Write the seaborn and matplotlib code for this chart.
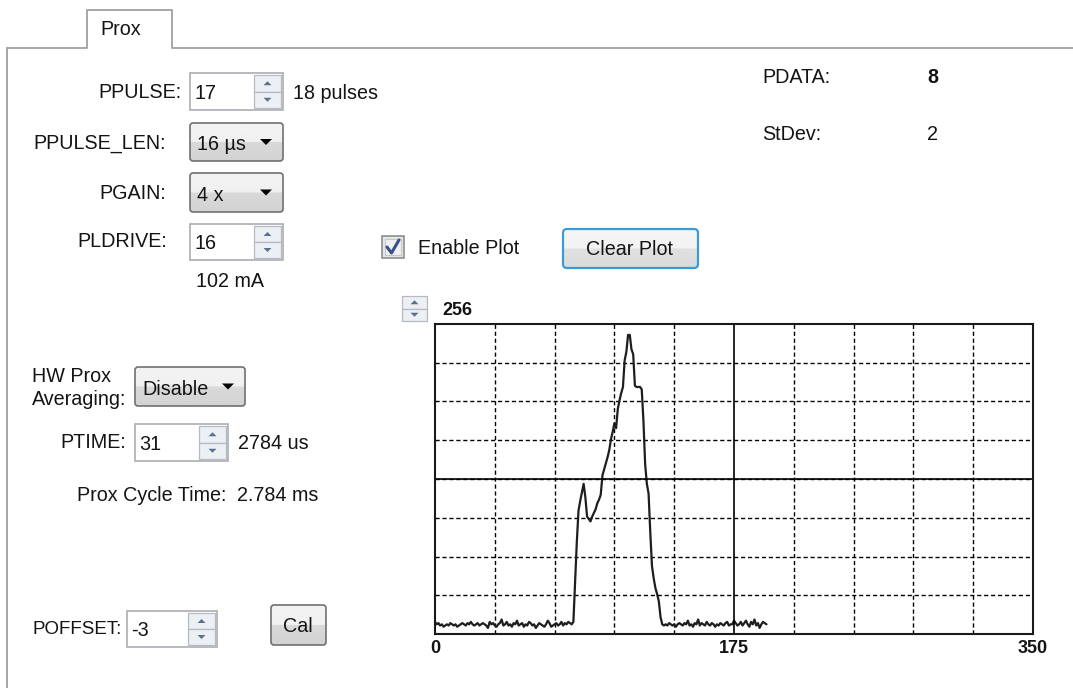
import numpy as np
import pandas as pd
import matplotlib
matplotlib.use('Agg')
import matplotlib.pyplot as plt
from matplotlib.patches import Rectangle, FancyBboxPatch, Polygon
import seaborn as sns

baseline_before = [10, 8, 9, 7, 8, 6, 7, 8, 7, 9,
                   8, 7, 8, 6, 7, 8, 9, 8, 7, 9,
                   8, 10, 8, 7, 8, 9, 7, 8, 9, 8,
                   7, 5, 10, 8, 9, 7, 6, 8, 9, 12,
                   7, 8, 10, 7, 8, 6, 9, 8, 11, 7,
                   8, 9, 6, 8, 7, 10, 9, 7, 8, 5,
                   7, 9, 8, 7, 6, 8, 11, 9, 6, 7,
                   8, 9, 7, 8, 10, 7, 9, 8, 10, 9,
                   8]
pulse = [10, 42, 76, 102, 110, 117, 124, 113, 97, 95,
         93, 97, 100, 103, 108, 111, 115, 131, 136, 141,
         146, 152, 161, 167, 174, 170, 186, 193, 199, 204,
         226, 233, 247, 247, 235, 231, 205, 204, 204, 204,
         202, 176, 140, 124, 116, 84, 56, 46, 38, 33,
         27, 14, 8]
baseline_after = [7, 8, 7, 9, 8, 7, 8, 6, 8, 9,
                  8, 7, 9, 8, 11, 7, 8, 6, 9, 8,
                  12, 7, 9, 8, 7, 10, 8, 7, 9, 8,
                  6, 8, 7, 9, 8, 7, 9, 10, 7, 8,
                  8, 11, 9, 7, 8, 10, 7, 9, 11, 8,
                  6, 10, 8, 12, 7, 9, 5, 8, 10, 9,
                  8]
pdata = baseline_before + pulse + baseline_after
x_ticks = [0, 175, 350]
x_max, y_max = 350, 256

sns.set_style('white')
plt.rcParams['font.family'] = ['Liberation Sans', 'DejaVu Sans']

W, H = 1073, 688
FS = 14.2
TXT = '#141414'

fig = plt.figure(figsize=(W / 100, H / 100), dpi=100)
bg = fig.add_axes([0, 0, 1, 1])
bg.axis('off')


def label(x, y, s, ha='left', **kw):
    fs = kw.pop('fontsize', FS)
    cap = 0.72 * fs * 100 / 72
    bg.text(x, y + cap / 2, s, ha=ha, va='baseline', fontsize=fs, color=TXT, **kw)


def shaded(x0, y0, x1, y1, ec, lw=1.2, r=3, top=0.95, bot=0.85):
    patch = FancyBboxPatch((x0, y0), x1 - x0, y1 - y0, boxstyle=f'round,pad=0,rounding_size={r}',
                           fc='none', ec=ec, lw=lw, zorder=3)
    bg.add_patch(patch)
    t = np.linspace(0, 1, 40)
    vals = np.where(t < 0.5, top - 0.02 * t, bot + 0.05 * (0.5 - t))
    img = np.repeat(vals[:, None], 2, axis=1)
    im = bg.imshow(img, extent=(x0, x1, y1, y0), cmap='gray', vmin=0, vmax=1,
                   aspect='auto', interpolation='bilinear', zorder=2)
    im.set_clip_path(patch)


def spinner(x0, y0, x1, y1):
    ym = (y0 + y1) / 2
    cx = (x0 + x1) / 2
    for a, b, up in [(y0, ym, True), (ym, y1, False)]:
        bg.add_patch(Rectangle((x0, a), x1 - x0, b - a, fc='#eceff3', ec='#b5bac2', lw=0.9, zorder=3))
        c = (a + b) / 2
        if up:
            tri = [(cx - 4, c + 2), (cx + 4, c + 2), (cx, c - 2)]
        else:
            tri = [(cx - 4, c - 2), (cx + 4, c - 2), (cx, c + 2)]
        bg.add_patch(Polygon(tri, closed=True, fc='#5b6f95', ec='none', zorder=4))


def spinbox(x0, y0, x1, y1, value):
    bg.add_patch(Rectangle((x0, y0), x1 - x0, y1 - y0, fc='white', ec='#abadb3', lw=1.2, zorder=2))
    spinner(x1 - 29, y0 + 2, x1 - 2, y1 - 2)
    label(x0 + 4, (y0 + y1) / 2, value)


def dropdown(x0, y0, x1, y1, text):
    shaded(x0, y0, x1, y1, ec='#707070')
    label(x0 + 7, (y0 + y1) / 2 + 1, text)
    c = (y0 + y1) / 2
    bg.add_patch(Polygon([(x1 - 23, c - 3), (x1 - 11, c - 3), (x1 - 17, c + 3)], closed=True,
                         fc='black', ec='none', zorder=4))


# onglet et cadre
frame = '#a0a0a0'
bg.plot([7, 87, 87, 172, 172, W], [48, 48, 10, 10, 48, 48], color=frame, lw=1.3)
bg.plot([7, 7], [48, H], color=frame, lw=1.3)
label(121, 28, 'Prox', ha='center')

# colonne de gauche
label(182, 91, 'PPULSE:', ha='right')
spinbox(190, 73, 283, 110, '17')
label(293, 92, '18 pulses')
label(166, 142, 'PPULSE_LEN:', ha='right')
dropdown(190, 123, 283, 161, '16 µs')
label(166, 192, 'PGAIN:', ha='right')
dropdown(190, 173, 283, 212, '4 x')
label(167, 240, 'PLDRIVE:', ha='right')
spinbox(190, 224, 283, 260, '16')
label(196, 280, '102 mA')

label(32, 375, 'HW Prox')
label(32, 398, 'Averaging:')
dropdown(135, 367, 245, 406, 'Disable')
label(126, 441, 'PTIME:', ha='right')
spinbox(135, 424, 228, 461, '31')
label(238, 442, '2784 us')
label(77, 494, 'Prox Cycle Time:')
label(237, 494, '2.784 ms')

label(32, 627, 'POFFSET:', fontsize=13.5)
spinbox(127, 611, 217, 647, '-3')
shaded(271, 605, 326, 645, ec='#707070')
label(298, 625, 'Cal', ha='center')

# case à cocher et bouton
bg.add_patch(Rectangle((382, 236), 22, 22, fc='#e4e6ea', ec='#8e8f8f', lw=1.2, zorder=2))
bg.add_patch(Rectangle((385, 239), 16, 16, fc='#f0f1f3', ec='#c4c6ca', lw=0.8, zorder=2))
bg.plot([387, 391.5, 399], [247, 253, 240], color='#3b4f8a', lw=2.2, zorder=4, solid_capstyle='round')
label(418, 247, 'Enable Plot')
shaded(563, 229, 698, 268, ec='#3c9bd6', lw=1.6, r=4, top=0.96, bot=0.88)
label(630, 248, 'Clear Plot', ha='center')

# valeurs à droite
label(762, 76, 'PDATA:')
label(933, 76, '8', ha='center', fontweight='bold')
label(762, 133, 'StDev:')
label(933, 133, '2', ha='center')

# en-tête du tracé
spinner(402, 296, 427, 321)
bg.text(442, 315, str(y_max), fontsize=13, fontweight='bold', color=TXT)

bg.set_xlim(0, W)
bg.set_ylim(H, 0)

# zone de tracé
ax = fig.add_axes([435 / W, (H - 634) / H, 598 / W, 310 / H])
df = pd.DataFrame({'sample': np.arange(len(pdata)), 'pdata': pdata})
sns.lineplot(data=df, x='sample', y='pdata', ax=ax, color='#1e1e1e', lw=1.6)
ax.set_xlim(0, x_max)
ax.set_ylim(0, y_max)
ax.set_xlabel('')
ax.set_ylabel('')
ax.set_xticks(x_ticks)
ax.set_xticklabels([str(v) for v in x_ticks], fontsize=13, fontweight='bold', color=TXT)
ax.set_yticks([])
ax.set_xticks(np.arange(35, x_max, 35), minor=True)
ax.set_yticks(np.arange(32, y_max, 32), minor=True)
ax.grid(which='minor', color='black', ls=(0, (3, 2)), lw=1.0)
ax.grid(which='major', visible=False)
ax.axvline(175, color='black', lw=1.2)
ax.axhline(128, color='black', lw=1.2)
ax.tick_params(which='both', length=0, pad=4)
for s in ax.spines.values():
    s.set_color('#1a1a1a')
    s.set_linewidth(1.5)

fig.savefig('out.png', dpi=100)
